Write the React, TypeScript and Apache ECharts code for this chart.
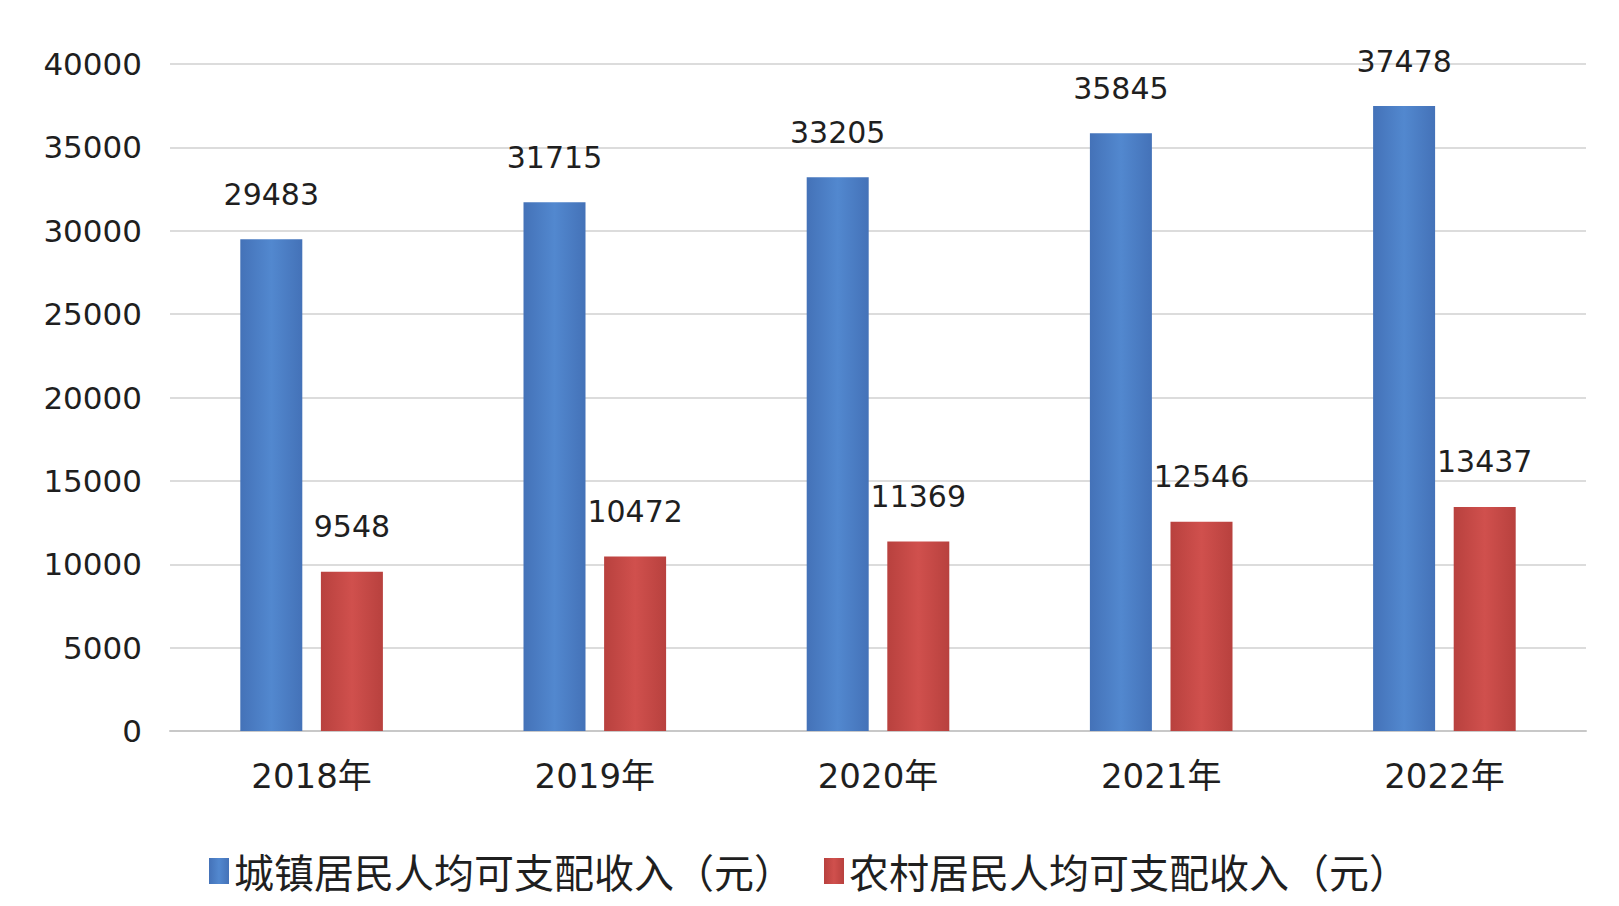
import React, { useEffect, useRef } from 'react';
import * as echarts from 'echarts';

const years = ['2018年', '2019年', '2020年', '2021年', '2022年'];
const urbanIncome = [29483, 31715, 33205, 35845, 37478];
const ruralIncome = [9548, 10472, 11369, 12546, 13437];
const seriesNames = ['城镇居民人均可支配收入（元）', '农村居民人均可支配收入（元）'];

const FONT = '"DejaVu Sans", "Noto Sans CJK SC", sans-serif';

const App: React.FC = () => {
	const chartRef = useRef<HTMLDivElement>(null);

	useEffect(() => {
		if (!chartRef.current) return;
		const chart = echarts.init(chartRef.current, undefined, { renderer: 'svg' });

		// 柱子带一点左右渐变，接近 Excel 的效果
		const barColor = (dark: string, light: string) =>
			new echarts.graphic.LinearGradient(0, 0, 1, 0, [
				{ offset: 0, color: dark },
				{ offset: 0.5, color: light },
				{ offset: 1, color: dark }
			]);

		const option: echarts.EChartsOption = {
			animation: false,
			backgroundColor: '#ffffff',
			textStyle: { fontFamily: FONT },
			grid: { left: 170, right: 33, top: 64, bottom: 175 },
			legend: {
				left: 204,
				top: 846,
				itemWidth: 20,
				itemHeight: 26,
				itemGap: 30,
				icon: 'rect',
				textStyle: { fontSize: 40, color: '#1f1f1f', fontFamily: '"Noto Sans CJK SC", sans-serif' },
				data: seriesNames
			},
			xAxis: {
				type: 'category',
				data: years,
				axisTick: { show: false },
				axisLine: { lineStyle: { color: '#c8c8c8', width: 2 } },
				axisLabel: { fontSize: 34, color: '#1f1f1f', margin: 28 }
			},
			yAxis: {
				type: 'value',
				min: 0,
				max: 40000,
				interval: 5000,
				axisLine: { show: false },
				axisTick: { show: false },
				axisLabel: {
					fontSize: 31,
					color: '#1f1f1f',
					margin: 28,
					formatter: (v: number) => String(v)
				},
				splitLine: { lineStyle: { color: '#dcdcdc', width: 2 } }
			},
			series: [
				{
					name: seriesNames[0],
					type: 'bar',
					data: urbanIncome,
					barWidth: 62,
					barGap: '30%',
					itemStyle: { color: barColor('#4472b8', '#5288cf') },
					label: { show: true, position: 'top', distance: 30, fontSize: 30, color: '#1f1f1f' }
				},
				{
					name: seriesNames[1],
					type: 'bar',
					data: ruralIncome,
					barWidth: 62,
					barGap: '30%',
					itemStyle: { color: barColor('#b8413e', '#d0504d') },
					label: { show: true, position: 'top', distance: 30, fontSize: 30, color: '#1f1f1f' }
				}
			]
		};

		chart.setOption(option);

		const handleResize = () => chart.resize();
		window.addEventListener('resize', handleResize);

		return () => {
			window.removeEventListener('resize', handleResize);
			chart.dispose();
		};
	}, []);

	return (
		<div
			ref={chartRef}
			style={{ position: 'fixed', left: 0, top: 0, width: '100vw', height: '100vh' }}
		/>
	);
};

export default App;
